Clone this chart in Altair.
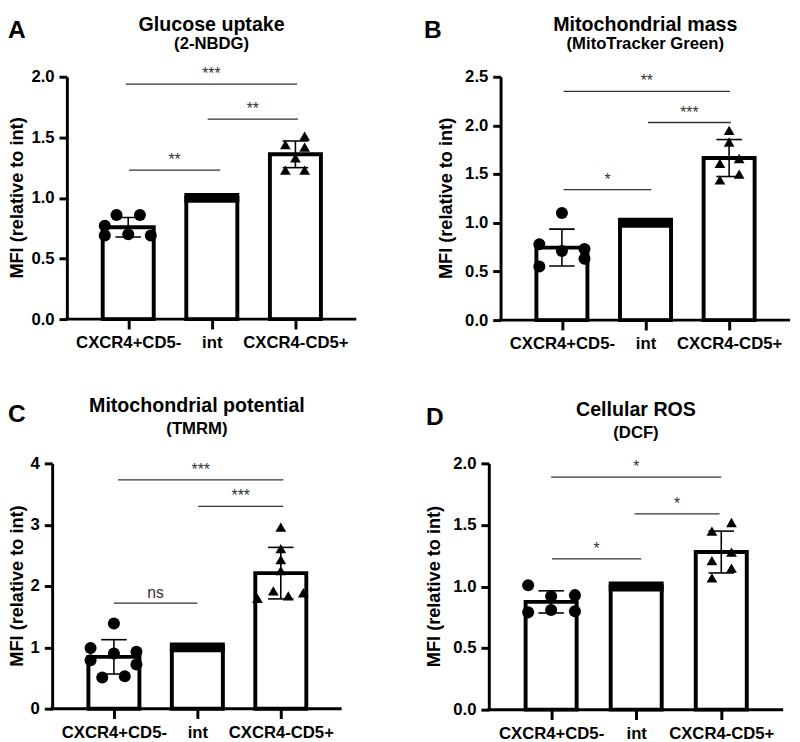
import altair as alt
import pandas as pd

FONT = "Liberation Sans"

groups = ["CXCR4+CD5-", "int", "CXCR4-CD5+"]
group_pos = [0, 1, 2]
y_title = "MFI (relative to int)"

# ---------------- Panel data ----------------
# A: Glucose uptake
A_means = [0.758, 1.0, 1.36]
A_sd = [0.08, 0.0, 0.11]
A_low = [0.86, 0.86, 0.77, 0.69, 0.70, 0.69]
A_low_off = [-0.14, 0.14, -0.28, -0.28, 0.0, 0.27]
A_high = [1.44, 1.51, 1.42, 1.33, 1.23, 1.23]
A_high_off = [-0.12, 0.11, 0.11, 0.0, -0.12, 0.11]
A_sig_x1 = [-0.03, 0.95, 0.01]
A_sig_x2 = [2.02, 2.03, 1.10]
A_sig_y = [1.94, 1.65, 1.23]
A_sig_lab = ["***", "**", "**"]

# B: Mitochondrial mass
B_means = [0.745, 1.0, 1.665]
B_sd = [0.19, 0.0, 0.19]
B_low = [1.10, 0.78, 0.71, 0.73, 0.63, 0.55]
B_low_off = [0.0, -0.27, 0.0, 0.27, 0.27, -0.27]
B_high = [1.95, 1.83, 1.61, 1.66, 1.44, 1.50]
B_high_off = [0.0, 0.0, -0.11, 0.12, -0.11, 0.12]
B_sig_x1 = [0.02, 1.03, 0.02]
B_sig_x2 = [2.01, 2.02, 1.07]
B_sig_y = [2.35, 2.03, 1.34]
B_sig_lab = ["**", "***", "*"]

# C: Mitochondrial potential
C_means = [0.845, 1.0, 2.21]
C_sd = [0.28, 0.0, 0.42]
C_low = [1.39, 0.99, 0.90, 0.93, 0.79, 0.72, 0.51, 0.53]
C_low_off = [0.0, -0.28, 0.0, 0.27, -0.28, 0.27, -0.14, 0.13]
C_high = [2.96, 2.61, 2.43, 2.25, 1.80, 1.92, 1.84, 1.89]
C_high_off = [0.0, 0.0, 0.0, 0.0, -0.28, -0.09, 0.09, 0.27]
C_sig_x1 = [0.05, 1.01, 0.0]
C_sig_x2 = [2.03, 2.03, 1.0]
C_sig_y = [3.73, 3.30, 1.72]
C_sig_lab = ["***", "***", "ns"]

# D: Cellular ROS
D_means = [0.875, 1.0, 1.28]
D_sd = [0.09, 0.0, 0.17]
D_low = [1.01, 0.92, 0.93, 0.79, 0.81, 0.80]
D_low_off = [-0.27, 0.0, 0.28, -0.27, 0.0, 0.28]
D_high = [1.52, 1.45, 1.28, 1.21, 1.15, 1.07]
D_high_off = [0.12, -0.11, 0.12, -0.11, 0.12, -0.11]
D_sig_x1 = [0.0, 0.98, 0.01]
D_sig_x2 = [2.0, 1.98, 1.06]
D_sig_y = [1.888, 1.59, 1.225]
D_sig_lab = ["*", "*", "*"]

label_expr = " : ".join(
    f"datum.value == {p} ? '{g}'" for p, g in zip(group_pos[:-1], groups[:-1])
) + f" : '{groups[-1]}'"

X_DOMAIN = [-0.675, 2.67]


def panel(letter, title, subtitle, means, sds, low, low_off, high, high_off,
          sx1, sx2, sy, slab, ymax, yticks, yfmt, width, height, letter_xy, title_y, sub_y,
          ytitle_x, shift=0):
    # "shift": the y axis sits this many px left of the plot origin (layout alignment)
    unit = width / (X_DOMAIN[1] - X_DOMAIN[0])
    w = width - shift
    xdom = [X_DOMAIN[0] + shift / unit, X_DOMAIN[1]]

    bars = pd.DataFrame({"pos": group_pos, "group": groups, "mean": means, "sd": sds})
    bars["lo"] = bars["mean"] - bars["sd"]
    bars["hi"] = bars["mean"] + bars["sd"]
    pts = pd.DataFrame({
        "x": [group_pos[0] + o for o in low_off] + [group_pos[2] + o for o in high_off],
        "v": low + high,
        "shape": ["circle"] * len(low) + ["triangle-up"] * len(high),
    })
    sig = pd.DataFrame({"x1": sx1, "x2": sx2, "y": sy, "lab": slab})
    heads = pd.DataFrame({"t": [letter, title, subtitle, y_title]})

    xs = alt.Scale(domain=xdom, nice=False, zero=False)
    ys = alt.Scale(domain=[0, ymax], nice=False)
    xaxis = alt.Axis(values=group_pos, labelExpr=label_expr, title=None, grid=False, domain=False,
                     tickSize=10, labelPadding=6, labelFontSize=17)
    yaxis = alt.Axis(values=yticks, format=yfmt, title=None, grid=False,
                     tickSize=8, labelPadding=5, offset=shift)

    base = alt.Chart(bars)
    bar_layer = base.mark_bar(size=52, fill="white", stroke="black", strokeWidth=4).encode(
        x=alt.X("pos:Q", scale=xs, axis=xaxis),
        y=alt.Y("mean:Q", scale=ys, axis=yaxis),
    )
    baseline = alt.Chart(pd.DataFrame({"v": [0]})).mark_rule(color="black", strokeWidth=3).encode(
        x=alt.value(-shift - 1.5), x2=alt.value(w), y="v:Q")
    band = base.transform_filter("datum.sd == 0").mark_tick(
        orient="horizontal", size=56, thickness=10, color="black", opacity=1
    ).encode(x="pos:Q", y="mean:Q")
    eb = base.transform_filter("datum.sd > 0")
    err = eb.mark_rule(color="black", strokeWidth=1.6).encode(x="pos:Q", y="lo:Q", y2="hi:Q")
    cap_hi = eb.mark_tick(orient="horizontal", size=26, thickness=1.6, color="black", opacity=1).encode(
        x="pos:Q", y="hi:Q")
    cap_lo = eb.mark_tick(orient="horizontal", size=26, thickness=1.6, color="black", opacity=1).encode(
        x="pos:Q", y="lo:Q")
    circ = alt.Chart(pts).transform_filter("datum.shape == 'circle'").mark_point(
        filled=True, color="black", opacity=1, size=150, shape="circle"
    ).encode(x="x:Q", y="v:Q")
    tri = alt.Chart(pts).transform_filter("datum.shape != 'circle'").mark_point(
        filled=True, color="black", opacity=1, size=120, shape="triangle-up"
    ).encode(x="x:Q", y="v:Q")
    sig_rule = alt.Chart(sig).mark_rule(color="#333333", strokeWidth=1.3).encode(
        x="x1:Q", x2="x2:Q", y="y:Q")
    sig_text = alt.Chart(sig).transform_calculate(xm="(datum.x1 + datum.x2) / 2").mark_text(
        font=FONT, fontSize=16, color="#333333", baseline="alphabetic", dy=-5
    ).encode(x="xm:Q", y="y:Q", text="lab:N")

    hd = alt.Chart(heads)
    let = hd.transform_filter(alt.datum.t == letter).mark_text(
        font=FONT, fontSize=25, fontWeight="bold", color="black", align="left",
        baseline="alphabetic"
    ).encode(x=alt.value(letter_xy[0] - shift), y=alt.value(letter_xy[1]), text="t:N")
    ttl = hd.transform_filter(alt.datum.t == title).mark_text(
        font=FONT, fontSize=20, fontWeight="bold", color="black", align="center",
        baseline="alphabetic"
    ).encode(x=alt.value(width / 2 - shift), y=alt.value(title_y), text="t:N")
    sub = hd.transform_filter(alt.datum.t == subtitle).mark_text(
        font=FONT, fontSize=17, fontWeight="bold", color="black", align="center",
        baseline="alphabetic"
    ).encode(x=alt.value(width / 2 - shift), y=alt.value(sub_y), text="t:N")
    ytl = hd.transform_filter(alt.datum.t == y_title).mark_text(
        font=FONT, fontSize=18.5, fontWeight="bold", color="black", align="center",
        baseline="middle", angle=270
    ).encode(x=alt.value(ytitle_x - shift), y=alt.value(height / 2), text="t:N")

    return alt.layer(bar_layer, baseline, band, err, cap_hi, cap_lo, circ, tri, sig_rule, sig_text,
                     let, ttl, sub, ytl).properties(width=w, height=height)


pA = panel("A", "Glucose uptake", "(2-NBDG)", A_means, A_sd, A_low, A_low_off, A_high, A_high_off,
           A_sig_x1, A_sig_x2, A_sig_y, A_sig_lab, 2.0, [0, 0.5, 1.0, 1.5, 2.0], ".1f", 295, 247,
           (-60, -40), -47, -28, -51)
pB = panel("B", "Mitochondrial mass", "(MitoTracker Green)", B_means, B_sd, B_low, B_low_off, B_high,
           B_high_off, B_sig_x1, B_sig_x2, B_sig_y, B_sig_lab, 2.5, [0, 0.5, 1.0, 1.5, 2.0, 2.5], ".1f",
           295, 248, (-78, -40), -47, -28, -55)
pC = panel("C", "Mitochondrial potential", "(TMRM)", C_means, C_sd, C_low, C_low_off, C_high, C_high_off,
           C_sig_x1, C_sig_x2, C_sig_y, C_sig_lab, 4, [0, 1, 2, 3, 4], "d", 295, 250,
           (-45, -42), -52, -30, -36, shift=15)
pD = panel("D", "Cellular ROS", "(DCF)", D_means, D_sd, D_low, D_low_off, D_high, D_high_off,
           D_sig_x1, D_sig_x2, D_sig_y, D_sig_lab, 2.0, [0, 0.5, 1.0, 1.5, 2.0], ".1f", 300, 251,
           (-64, -39), -48, -26, -56)

chart = alt.concat(
    alt.hconcat(pA, pB, spacing=67),
    alt.hconcat(pC, pD, spacing=83),
    columns=1, align="none", spacing=46,
).properties(padding=0).configure_view(stroke=None).configure_axis(
    domainColor="black", domainWidth=3, tickColor="black", tickWidth=3,
    labelFont=FONT, labelFontWeight="bold", labelFontSize=17, labelColor="black",
)

chart.save("out.html", embed_options={"renderer": "svg", "actions": False})
